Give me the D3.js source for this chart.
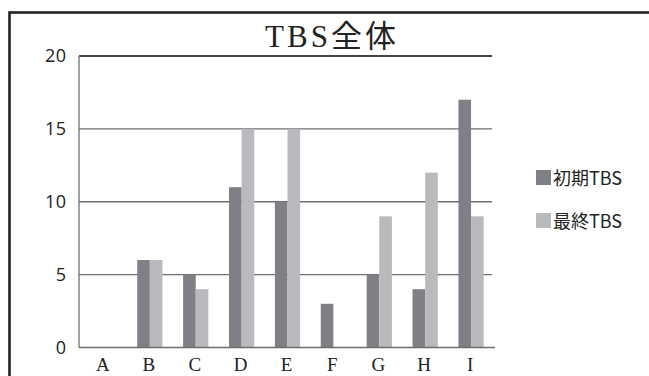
<!DOCTYPE html>
<html><head><meta charset="utf-8">
<script src="https://cdn.jsdelivr.net/npm/d3@7"></script>
<style>body{margin:0;background:#fff}svg{display:block}</style>
</head><body>
<script>
const categories = ["A","B","C","D","E","F","G","H","I"];
const initialTBS = [0,6,5,11,10,3,5,4,17];
const finalTBS   = [0,6,4,15,15,0,9,12,9];
const seriesNames = ["初期TBS","最終TBS"];
const yTicks = [0,5,10,15,20];
const title = "TBS全体";

const W=649,H=376;
const m={left:79,right:494,top:56,bottom:347.5};
const colors=["#7f8085","#b9babd"];
const svg=d3.select("body").append("svg").attr("width",W).attr("height",H);

// frame
svg.append("rect").attr("x",9.5).attr("y",12.5).attr("width",W).attr("height",H)
  .attr("fill","none").attr("stroke","#222").attr("stroke-width",2.6);

const x=d3.scaleBand().domain(categories).range([m.left+2,m.right]);
const xs=d3.scaleBand().domain([0,1]).range([0,x.bandwidth()*0.55]);
const y=d3.scaleLinear().domain([0,20]).range([m.bottom,m.top]);

// gridlines
svg.append("g").selectAll("line").data(yTicks.filter(d=>d>0)).join("line")
  .attr("x1",m.left).attr("x2",m.right-2).attr("y1",d=>y(d)).attr("y2",d=>y(d))
  .attr("stroke",d=>d===20?"#444":"#6e6e6e").attr("stroke-width",d=>d===20?1.8:1.4);

// bars
const series=[initialTBS,finalTBS];
const off=(x.bandwidth()-x.bandwidth()*0.55)/2;
series.forEach((vals,si)=>{
  svg.append("g").selectAll("rect").data(categories).join("rect")
    .attr("x",(c)=>x(c)+off+xs(si)).attr("width",xs.bandwidth())
    .attr("y",(c,i)=>y(vals[i])).attr("height",(c,i)=>y(0)-y(vals[i]))
    .attr("fill",colors[si]);
});

// axes lines
svg.append("line").attr("x1",m.left).attr("x2",m.left).attr("y1",m.top).attr("y2",m.bottom)
  .attr("stroke","#7a7a7a").attr("stroke-width",1.4);
svg.append("line").attr("x1",m.left).attr("x2",m.right+1).attr("y1",m.bottom).attr("y2",m.bottom)
  .attr("stroke","#6e6e6e").attr("stroke-width",1.6);

// y labels
svg.append("g").selectAll("text").data(yTicks).join("text")
  .attr("x",66).attr("y",d=>y(d)).attr("dy","0.35em").attr("text-anchor","end")
  .attr("font-family","'Open Sans',sans-serif").attr("font-size",18).attr("fill","#222")
  .attr("textLength",d=>d>=10?21:null)
  .text(d=>d);

// x labels
svg.append("g").selectAll("text").data(categories).join("text")
  .attr("x",c=>x(c)+x.bandwidth()/2-1).attr("y",371).attr("text-anchor","middle")
  .attr("font-family","'Liberation Serif',serif").attr("font-size",19).attr("fill","#222")
  .text(c=>c);

// title
svg.append("text").attr("x",332).attr("y",47).attr("text-anchor","middle")
  .attr("font-family","'Liberation Serif','Noto Sans CJK JP',serif").attr("font-size",31)
  .attr("letter-spacing",3).attr("fill","#222").text(title);

// legend
const lg=svg.append("g");
seriesNames.forEach((n,i)=>{
  const yy=170+i*43;
  lg.append("rect").attr("x",536).attr("y",yy).attr("width",15).attr("height",15).attr("fill",colors[i]);
  lg.append("text").attr("x",553).attr("y",yy+15).attr("font-family","'Noto Sans CJK JP','Open Sans',sans-serif")
    .attr("font-size",18).attr("fill","#222").text(n);
});
</script>
</body></html>
